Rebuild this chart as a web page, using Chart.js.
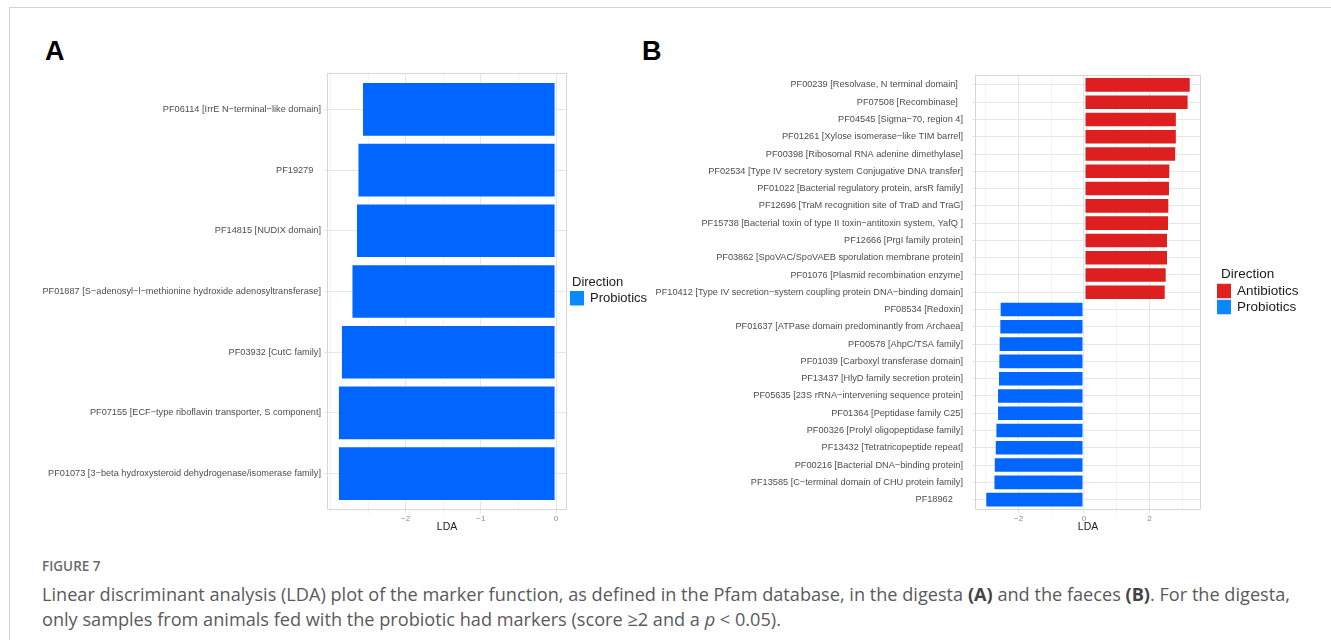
<!DOCTYPE html>
<html>
<head>
<meta charset="utf-8">
<script src="https://cdn.jsdelivr.net/npm/chart.js@4/dist/chart.umd.min.js"></script>
<style>
  html, body { margin: 0; padding: 0; background: #fff; }
  body { width: 1331px; height: 640px; position: relative; overflow: hidden; font-family: "Liberation Sans", Arial, sans-serif; }
  .rule-top { position: absolute; left: 9px; top: 7px; width: 1322px; height: 0; border-top: 1.5px solid #d3d3d3; }
  .rule-left { position: absolute; left: 9px; top: 7px; width: 0; height: 633px; border-left: 1.5px solid #d3d3d3; }
  .tag { position: absolute; font: bold 27px "Liberation Sans", Arial, sans-serif; line-height: 27px; color: #000; }
  canvas { position: absolute; display: block; }
  #panelA { left: 20px; top: 60px; }
  #panelB { left: 640px; top: 60px; }
  .cap { position: absolute; left: 42px; font-family: "Open Sans", sans-serif; color: #5a5a5a; white-space: nowrap; }
  .cap-head { top: 556px; font-size: 13.5px; line-height: 20px; font-weight: 600; color: #6a6a6a; }
  .cap-line { font-size: 18.15px; line-height: 25px; }
  .cap-line b { font-weight: 700; color: #444; }
</style>
</head>
<body>
<div class="rule-top"></div>
<div class="rule-left"></div>
<div class="tag" style="left:45px; top:38px;">A</div>
<div class="tag" style="left:642px; top:38px;">B</div>
<canvas id="panelA" width="640" height="480"></canvas>
<canvas id="panelB" width="691" height="480"></canvas>
<div class="cap cap-head">FIGURE 7</div>
<div class="cap cap-line" style="top:582px;">Linear discriminant analysis (LDA) plot of the marker function, as defined in the Pfam database, in the digesta <b>(A)</b> and the faeces <b>(B)</b>. For the digesta,</div>
<div class="cap cap-line" style="top:607px;">only samples from animals fed with the probiotic had markers (score ≥2 and a <i>p</i> &lt; 0.05).</div>

<script>
// ---- Panel A: digesta (top to bottom) ----
const categoriesA = [
  'PF06114 [IrrE N\u2212terminal\u2212like domain]',
  'PF19279   ',
  'PF14815 [NUDIX domain]',
  'PF01887 [S\u2212adenosyl\u2212l\u2212methionine hydroxide adenosyltransferase]',
  'PF03932 [CutC family]',
  'PF07155 [ECF\u2212type riboflavin transporter, S component]',
  'PF01073 [3\u2212beta hydroxysteroid dehydrogenase/isomerase family]'
];
const probioticsA = [-2.58, -2.64, -2.66, -2.72, -2.86, -2.90, -2.90];
const majorTicksA = [-2, -1, 0];
const minorTicksA = [-3, -2.5, -1.5, -0.5];

// ---- Panel B: faeces (top to bottom; antibiotic markers first) ----
const categoriesB = [
  'PF00239 [Resolvase, N terminal domain]  ',
  'PF07508 [Recombinase]  ',
  'PF04545 [Sigma\u221270, region 4]',
  'PF01261 [Xylose isomerase\u2212like TIM barrel]',
  'PF00398 [Ribosomal RNA adenine dimethylase]',
  'PF02534 [Type IV secretory system Conjugative DNA transfer]',
  'PF01022 [Bacterial regulatory protein, arsR family]',
  'PF12696 [TraM recognition site of TraD and TraG]',
  'PF15738 [Bacterial toxin of type II toxin\u2212antitoxin system, YafQ ]',
  'PF12666 [PrgI family protein]',
  'PF03862 [SpoVAC/SpoVAEB sporulation membrane protein]',
  'PF01076 [Plasmid recombination enzyme]',
  'PF10412 [Type IV secretion\u2212system coupling protein DNA\u2212binding domain]',
  'PF08534 [Redoxin]',
  'PF01637 [ATPase domain predominantly from Archaea]',
  'PF00578 [AhpC/TSA family]',
  'PF01039 [Carboxyl transferase domain]',
  'PF13437 [HlyD family secretion protein]',
  'PF05635 [23S rRNA\u2212intervening sequence protein]',
  'PF01364 [Peptidase family C25]',
  'PF00326 [Prolyl oligopeptidase family]',
  'PF13432 [Tetratricopeptide repeat]',
  'PF00216 [Bacterial DNA\u2212binding protein]',
  'PF13585 [C\u2212terminal domain of CHU protein family]',
  'PF18962    '
];
const antibioticsB = [3.265, 3.20, 2.84, 2.84, 2.82, 2.64, 2.63, 2.61, 2.60, 2.57, 2.57, 2.53, 2.50];
const probioticsB = [-2.58, -2.59, -2.61, -2.62, -2.63, -2.66, -2.66, -2.71, -2.73, -2.76, -2.77, -3.02];
const majorTicksB = [-2, 0, 2];
const minorTicksB = [-3, -1, 1, 3];

const legendTitle = 'Direction';
const axisTitle = 'LDA';

// ---- look ----
const RED = '#dd1f1f', RED_KEY = '#e02020';
const BLUE = '#0066ff', BLUE_KEY = '#0a88ff';
const GRID_MAJOR = '#e6e6e6', GRID_MINOR = '#f3f3f3';
const FONT = '"Liberation Sans", Arial, sans-serif';

const minus = v => v < 0 ? '\u2212' + Math.abs(v) : String(v);

// panel outline drawn over the bars, like a ggplot panel border
const panelFrame = {
  id: 'panelFrame',
  afterDatasetsDraw(chart) {
    const { ctx, chartArea: a } = chart;
    ctx.save();
    ctx.strokeStyle = '#d6d6d6';
    ctx.lineWidth = 1;
    ctx.strokeRect(Math.round(a.left) + 0.5, Math.round(a.top) + 0.5, Math.round(a.width) - 1, Math.round(a.height) - 1);
    ctx.restore();
  }
};

// "Direction" key to the right of the panel
const directionKey = {
  id: 'directionKey',
  afterDraw(chart, args, opts) {
    const { ctx, chartArea: a } = chart;
    const sets = chart.data.datasets;
    const mid = (a.top + a.bottom) / 2;
    const titleY = mid - 9.5 - 8 * (sets.length - 1);
    const x0 = a.right + opts.gap;
    ctx.save();
    ctx.font = opts.size + 'px ' + FONT;
    ctx.textBaseline = 'middle';
    ctx.textAlign = 'left';
    ctx.fillStyle = '#1a1a1a';
    ctx.fillText(opts.title, x0 + opts.titleIndent, titleY);
    sets.forEach((d, i) => {
      const top = titleY + 9 + i * 16;
      ctx.fillStyle = d.keyColor;
      ctx.fillRect(x0, top, 14, 14.5);
      ctx.fillStyle = '#1a1a1a';
      ctx.fillText(d.label, x0 + opts.textGap, top + 7.5);
    });
    ctx.restore();
  }
};

function panel(id, cats, datasets, majors, minors, look) {
  const vals = datasets.flatMap(d => d.data.map(p => p.x));
  const lo = Math.min(0, ...vals), hi = Math.max(0, ...vals);
  const pad = (hi - lo) * 0.05;
  const n = cats.length;
  const xTicks = [...majors, ...minors].sort((a, b) => a - b);
  return new Chart(document.getElementById(id), {
    type: 'bar',
    data: { datasets },
    options: {
      responsive: false,
      animation: false,
      devicePixelRatio: 1,
      indexAxis: 'y',
      layout: { padding: { top: 13, right: look.right, left: 0, bottom: 0 } },
      plugins: {
        legend: { display: false },
        tooltip: { enabled: false },
        directionKey: { title: legendTitle, gap: look.keyGap, titleIndent: look.titleIndent, textGap: look.textGap, size: look.keySize }
      },
      scales: {
        x: {
          type: 'linear',
          min: lo - pad,
          max: hi + pad,
          afterBuildTicks: s => { s.ticks = xTicks.map(v => ({ value: v })); },
          afterFit: s => { s.height = 30; },
          border: { display: false },
          grid: {
            color: c => (c.tick && majors.includes(c.tick.value)) ? GRID_MAJOR : GRID_MINOR,
            lineWidth: 1,
            drawTicks: true,
            tickLength: 3
          },
          ticks: {
            autoSkip: false,
            maxRotation: 0,
            padding: 1,
            color: '#8a8a8a',
            font: { family: FONT, size: 8 },
            callback: v => majors.includes(v) ? minus(v) : ''
          },
          title: {
            display: true,
            text: axisTitle,
            color: '#222',
            font: { family: FONT, size: 10.5 },
            padding: { top: 0, bottom: 6.7 }
          }
        },
        y: {
          type: 'linear',
          reverse: true,
          offset: false,
          min: 0.4,
          max: n + 0.6,
          afterBuildTicks: s => { s.ticks = cats.map((c, i) => ({ value: i + 1 })); },
          afterFit: s => { s.width = look.yWidth; },
          border: { display: false },
          grid: { offset: false, color: GRID_MAJOR, lineWidth: 1, drawTicks: true, tickLength: 3 },
          ticks: {
            autoSkip: false,
            padding: look.labelPad,
            color: '#4d4d4d',
            font: { family: FONT, size: 9.2 },
            callback: v => cats[v - 1]
          }
        }
      }
    },
    plugins: [panelFrame, directionKey]
  });
}

const barStyle = { grouped: false, categoryPercentage: 0.9, barPercentage: 1, borderWidth: 1, borderColor: 'rgba(255,255,255,0.55)', borderSkipped: false };

panel('panelA', categoriesA, [
  Object.assign({ label: 'Probiotics', backgroundColor: BLUE, keyColor: BLUE_KEY,
    data: probioticsA.map((v, i) => ({ x: v, y: i + 1 })) }, barStyle)
], majorTicksA, minorTicksA, { right: 93, yWidth: 307, labelPad: 3, keyGap: 3, titleIndent: 2, textGap: 20, keySize: 13 });

panel('panelB', categoriesB, [
  Object.assign({ label: 'Antibiotics', backgroundColor: RED, keyColor: RED_KEY,
    data: antibioticsB.map((v, i) => ({ x: v, y: i + 1 })) }, barStyle),
  Object.assign({ label: 'Probiotics', backgroundColor: BLUE, keyColor: BLUE_KEY,
    data: probioticsB.map((v, i) => ({ x: v, y: antibioticsB.length + i + 1 })) }, barStyle)
], majorTicksB, minorTicksB, { right: 130, yWidth: 335, labelPad: 9, keyGap: 16, titleIndent: 4, textGap: 20, keySize: 13.5 });
</script>
</body>
</html>
